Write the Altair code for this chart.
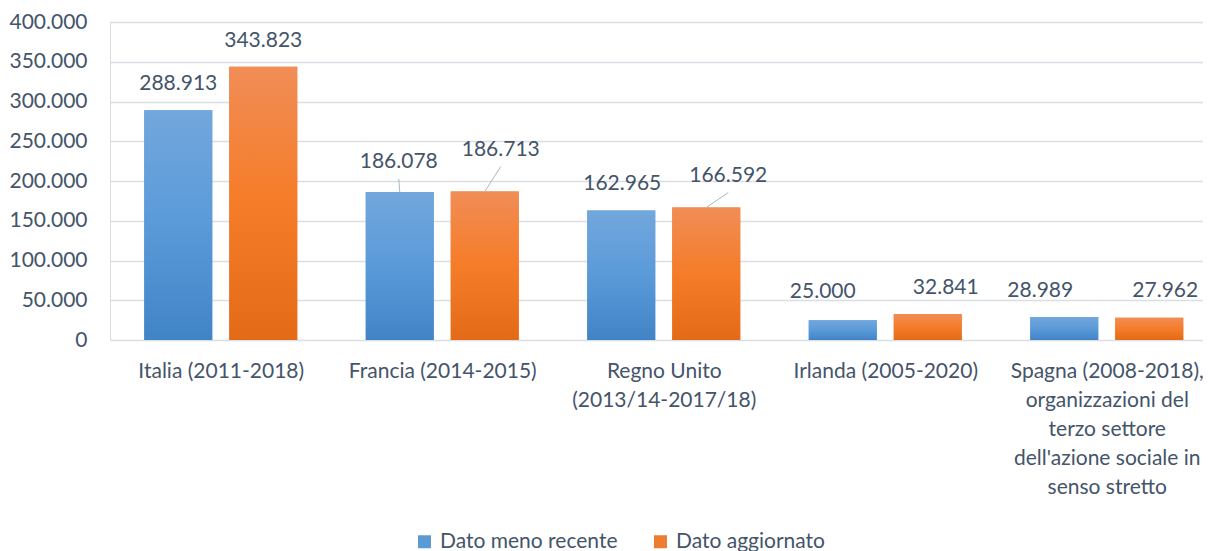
import json
import altair as alt
import pandas as pd

# ---------------- data ----------------
category_lines = [
    ["Italia (2011-2018)"],
    ["Francia (2014-2015)"],
    ["Regno Unito", "(2013/14-2017/18)"],
    ["Irlanda (2005-2020)"],
    ["Spagna (2008-2018),", "organizzazioni del", "terzo settore",
     "dell'azione sociale in", "senso stretto"],
]
series_names = ["Dato meno recente", "Dato aggiornato"]
older = [288913, 186078, 162965, 25000, 28989]
newer = [343823, 186713, 166592, 32841, 27962]
y_ticks = [0, 50000, 100000, 150000, 200000, 250000, 300000, 350000, 400000]

# manual label nudges (pixels, relative to bar top centre) as in the original
older_label_dx = [0, -1, 1, -20, -24]
older_label_dy = [-26, -30, -26, -28, -26]
newer_label_dx = [0, 16, 22, 18, 16]
newer_label_dy = [-26, -42, -32, -26, -27]
older_leader = [False, True, False, False, False]
newer_leader = [False, True, True, False, False]

# ---------------- layout ----------------
PLOT_W, PLOT_H = 1093, 318
STEP = 221.5                        # pixels per category
X_MIN = -0.5
X_MAX = X_MIN + PLOT_W / STEP
Y_MAX = 400000
BAR_HALF = 34 / STEP
SERIES_SHIFT = 42.5 / STEP
VAL_PER_PX = Y_MAX / PLOT_H
LEADER_GAP = 17

TEXT = "#44546A"
GRID = "#DADEE4"
FONT = "Lato"

def fmt(v):
    return f"{v:,}".replace(",", ".")

rows = []
for i in range(len(category_lines)):
    for s, vals, dxs, dys, leads, sh in (
        (series_names[0], older, older_label_dx, older_label_dy, older_leader, -SERIES_SHIFT),
        (series_names[1], newer, newer_label_dx, newer_label_dy, newer_leader, SERIES_SHIFT),
    ):
        c = i + sh
        v = vals[i]
        ly = v - dys[i] * VAL_PER_PX
        rows.append(dict(
            idx=i, series=s, value=v, zero=0, label=fmt(v),
            xc=c, x0=c - BAR_HALF, x1=c + BAR_HALF,
            lx=c + dxs[i] / STEP, ly=ly,
            leader=leads[i], lead_y=ly - LEADER_GAP * VAL_PER_PX,
        ))
df = pd.DataFrame(rows)

x_scale = alt.Scale(domain=[X_MIN, X_MAX], nice=False, zero=False)
y_scale = alt.Scale(domain=[0, Y_MAX], nice=False)

label_expr = json.dumps(category_lines, ensure_ascii=False) + "[datum.value]"

x_axis = alt.Axis(
    values=list(range(len(category_lines))), labelExpr=label_expr,
    grid=False, domain=False, ticks=False, tickSize=0, labelPadding=20,
    labelFontSize=21, labelColor=TEXT, labelFont=FONT, labelLineHeight=29,
    labelOverlap=False, labelFlush=False, labelBound=False, labelAlign="center",
    labelLimit=500, title=None,
)
y_axis = alt.Axis(
    values=y_ticks, labelExpr="join(split(format(datum.value, ','), ','), '.')",
    grid=True, gridColor=GRID, gridWidth=1.5, domain=False, ticks=False,
    tickSize=0, labelPadding=23, labelFontSize=21, labelColor=TEXT,
    labelFont=FONT, labelOverlap=False, title=None,
)

def X(field):
    return alt.X(field, type="quantitative", scale=x_scale, axis=x_axis)

def Y(field):
    return alt.Y(field, type="quantitative", scale=y_scale, axis=y_axis)

base = alt.Chart(df)

legend_bars = base.mark_bar().encode(
    x=X("x0"), x2="x1", y=Y("value"), y2="zero",
    color=alt.Color(
        "series:N",
        scale=alt.Scale(domain=series_names, range=["#5B9BD5", "#ED7D31"]),
        legend=alt.Legend(
            title=None, orient="none", legendX=304, legendY=509,
            direction="horizontal", symbolType="square", symbolSize=169,
            symbolStrokeWidth=0, labelFontSize=21, labelColor=TEXT,
            labelFont=FONT, labelLimit=400, labelOffset=5, columnPadding=32,
        ),
    ),
)

def grad(stops):
    return alt.Gradient(
        gradient="linear", x1=0, x2=0, y1=0, y2=1,
        stops=[alt.GradientStop(color=c, offset=o) for o, c in stops],
    )

blue_grad = grad([(0, "#73A7DD"), (0.5, "#5A9AD9"), (1, "#4184C6")])
orange_grad = grad([(0, "#F18D56"), (0.5, "#F57C28"), (1, "#E36A16")])

def grad_bars(name, g):
    return base.transform_filter(alt.datum.series == name).mark_bar(color=g).encode(
        x=X("x0"), x2="x1", y=Y("value"), y2="zero",
    )

leaders = base.transform_filter(alt.datum.leader == True).mark_rule(
    color="#A9B6C6", strokeWidth=1
).encode(
    x=X("lx"), x2="xc", y=Y("lead_y"), y2="value",
)

labels = base.mark_text(
    font=FONT, fontSize=21, color=TEXT, align="center", baseline="middle"
).encode(
    x=X("lx"), y=Y("ly"), text="label:N",
)

chart = alt.layer(
    legend_bars,
    grad_bars(series_names[0], blue_grad),
    grad_bars(series_names[1], orange_grad),
    leaders,
    labels,
).properties(
    width=PLOT_W, height=PLOT_H,
    autosize=alt.AutoSizeParams(type="none"),
    padding={"left": 102, "top": 14, "right": 0, "bottom": 212},
).configure_view(stroke=None).configure(font=FONT)

chart.save("out.html", embed_options={"renderer": "svg", "actions": False})
